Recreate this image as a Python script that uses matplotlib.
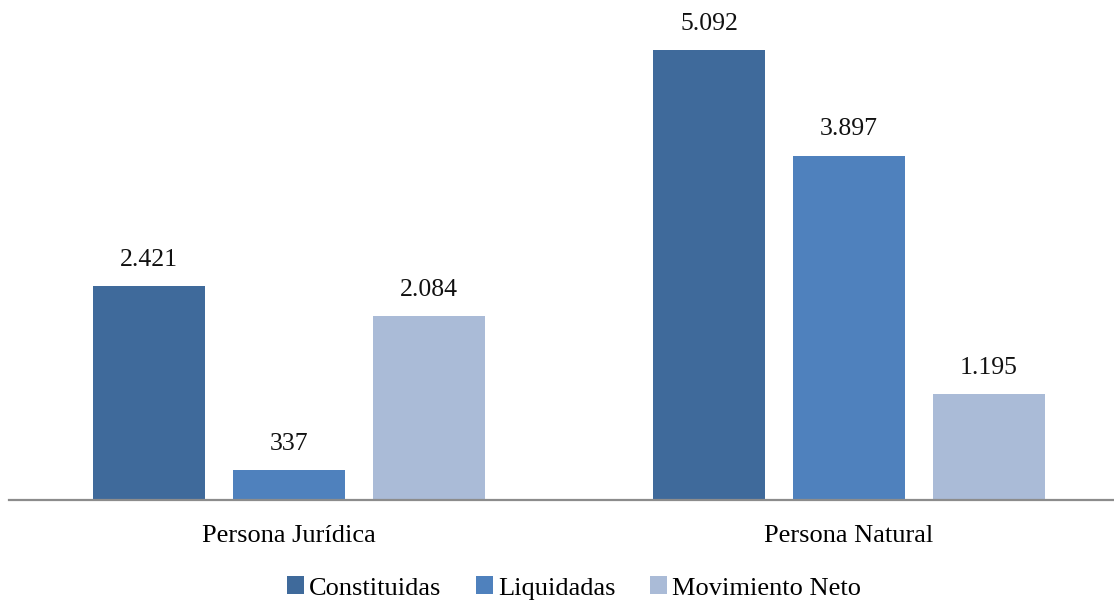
import matplotlib
matplotlib.use("Agg")
import matplotlib.pyplot as plt
import numpy as np

categories = ["Persona Jurídica", "Persona Natural"]
series_names = ["Constituidas", "Liquidadas", "Movimiento Neto"]
constituidas = [2421, 5092]
liquidadas = [337, 3897]
movimiento_neto = [2084, 1195]
colors = ["#3F6A9B", "#4F81BD", "#AABBD7"]

plt.rcParams['font.family'] = ['Liberation Serif', 'DejaVu Serif']

fig = plt.figure(figsize=(11.14, 6.01), dpi=100)
ax = fig.add_axes([9/1114, 1 - 500/601, 1 - 9/1114, 500/601])

x = np.arange(len(categories))
width = 0.2
offsets = [-0.25, 0.0, 0.25]
data = [constituidas, liquidadas, movimiento_neto]

def fmt(v):
    return f"{v:,}".replace(",", ".")

for vals, off, col, name in zip(data, offsets, colors, series_names):
    bars = ax.bar(x + off, vals, width, color=col, label=name, zorder=2)
    for b, v in zip(bars, vals):
        ax.annotate(fmt(v), (b.get_x() + b.get_width()/2, v),
                    xytext=(0, 11), textcoords="offset points",
                    ha="center", va="bottom", fontsize=18.5, color="#111111")

ax.set_xlim(-0.5, 1 + (1114 - 849) / 560)
ax.set_ylim(0, 500 / (450 / 5092))
for s in ["top", "right", "left"]:
    ax.spines[s].set_visible(False)
ax.spines["bottom"].set_color("#8C8C8C")
ax.spines["bottom"].set_linewidth(1.6)
ax.set_yticks([])
ax.set_xticks(x)
ax.set_xticklabels(categories, fontsize=19)
ax.tick_params(axis="x", length=0, pad=18)

fig.legend(loc="center", bbox_to_anchor=(574/1114, 1 - 588/601), ncol=3,
           frameon=False, fontsize=19, handlelength=0.65, handleheight=0.65,
           handletextpad=0.2, columnspacing=1.3)

fig.savefig("out.png", dpi=100)
